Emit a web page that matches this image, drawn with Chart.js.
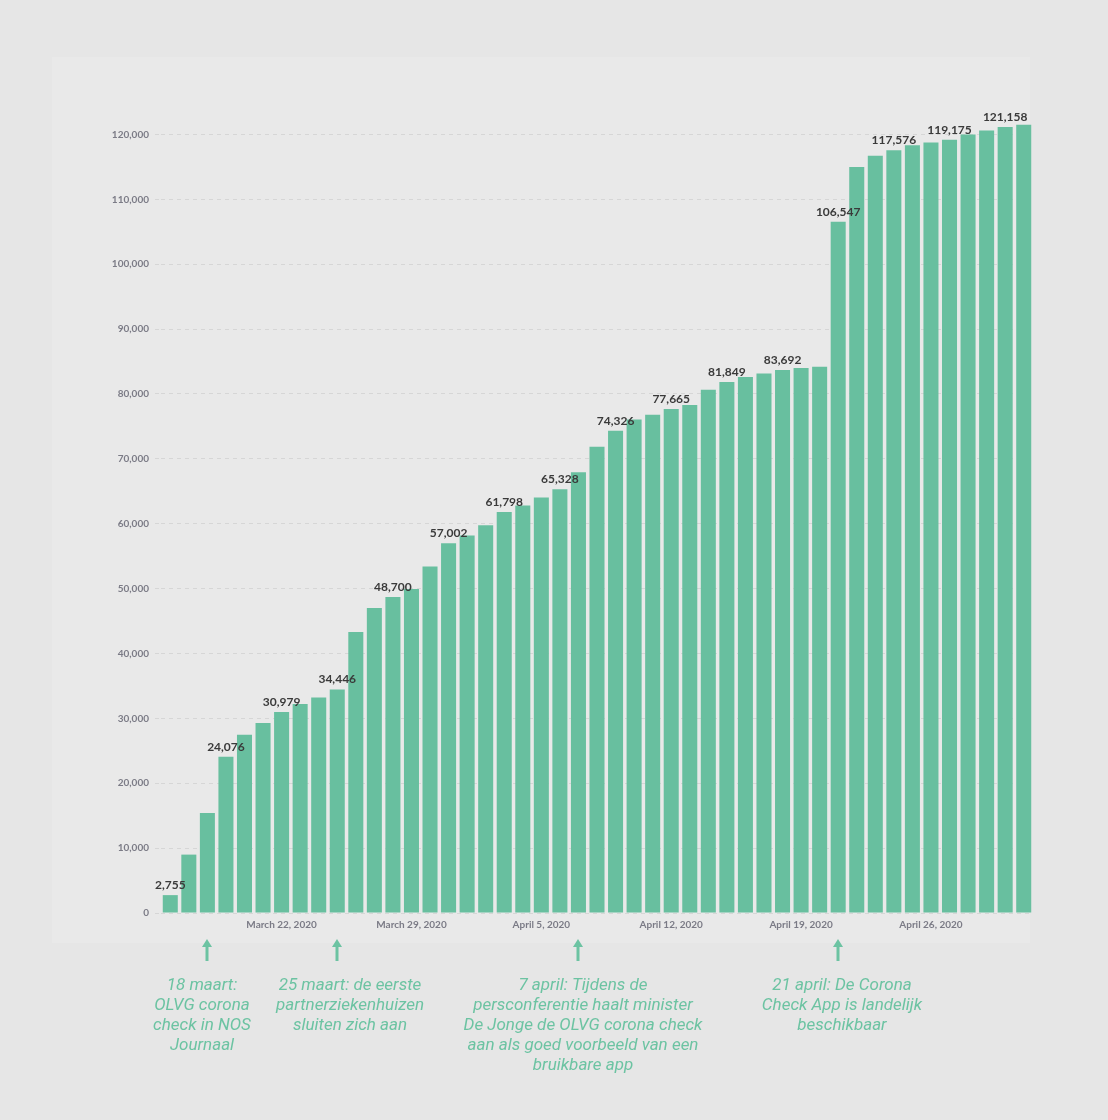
<!DOCTYPE html>
<html>
<head>
<meta charset="utf-8">
<script src="https://cdn.jsdelivr.net/npm/chart.js@4.4.1/dist/chart.umd.min.js"></script>
<style>
  html, body { margin: 0; padding: 0; background: #e6e6e6; }
  #wrap { position: relative; width: 1108px; height: 1120px; }
  #panel { position: absolute; left: 52px; top: 57px; width: 978px; height: 886px; background: #e9e9e9; }
  canvas { position: absolute; left: 0; top: 0; }
</style>
</head>
<body>
<div id="wrap">
  <div id="panel"></div>
  <canvas id="checksChart" width="1108" height="1120"></canvas>
</div>
<script>
// cumulative number of corona checks per day
const days = [
  'March 16, 2020', 'March 17, 2020', 'March 18, 2020', 'March 19, 2020', 'March 20, 2020',
  'March 21, 2020', 'March 22, 2020', 'March 23, 2020', 'March 24, 2020', 'March 25, 2020',
  'March 26, 2020', 'March 27, 2020', 'March 28, 2020', 'March 29, 2020', 'March 30, 2020',
  'March 31, 2020', 'April 1, 2020', 'April 2, 2020', 'April 3, 2020', 'April 4, 2020',
  'April 5, 2020', 'April 6, 2020', 'April 7, 2020', 'April 8, 2020', 'April 9, 2020',
  'April 10, 2020', 'April 11, 2020', 'April 12, 2020', 'April 13, 2020', 'April 14, 2020',
  'April 15, 2020', 'April 16, 2020', 'April 17, 2020', 'April 18, 2020', 'April 19, 2020',
  'April 20, 2020', 'April 21, 2020', 'April 22, 2020', 'April 23, 2020', 'April 24, 2020',
  'April 25, 2020', 'April 26, 2020', 'April 27, 2020', 'April 28, 2020', 'April 29, 2020',
  'April 30, 2020', 'May 1, 2020'
];
const checks = [
  2755, 9000, 15400, 24076, 27470, 29270, 30979, 32200, 33220, 34446,
  43300, 47000, 48700, 49950, 53400, 57002, 58200, 59750, 61798, 62800,
  64050, 65328, 67950, 71850, 74326, 76050, 76800, 77665, 78300, 80650,
  81849, 82600, 83150, 83692, 84000, 84200, 106547, 115000, 116700, 117576,
  118350, 118750, 119175, 120000, 120600, 121158, 121500
];
const tickDates = ['March 22, 2020', 'March 29, 2020', 'April 5, 2020', 'April 12, 2020', 'April 19, 2020', 'April 26, 2020'];
const yTicks = [0, 10000, 20000, 30000, 40000, 50000, 60000, 70000, 80000, 90000, 100000, 110000, 120000];

const noteDays = ['March 18, 2020', 'March 25, 2020', 'April 7, 2020', 'April 21, 2020'];
const noteTexts = [
  ['18 maart:', 'OLVG corona', 'check in NOS', 'Journaal'],
  ['25 maart: de eerste', 'partnerziekenhuizen', 'sluiten zich aan'],
  ['7 april: Tijdens de', 'persconferentie haalt minister', 'De Jonge de OLVG corona check', 'aan als goed voorbeeld van een', 'bruikbare app'],
  ['21 april: De Corona', 'Check App is landelijk', 'beschikbaar']
];
const noteShift = [-5, 13, 5, 4];

const green = '#68bf9f';
const noteGreen = '#6cc3a2';
const tickGray = '#7b7b86';

const valueLabels = {
  id: 'valueLabels',
  afterDatasetsDraw(chart) {
    const { ctx } = chart;
    const bars = chart.getDatasetMeta(0).data;
    ctx.save();
    ctx.font = 'bold 12px Lato';
    ctx.fillStyle = '#3a3a3a';
    ctx.textAlign = 'center';
    ctx.textBaseline = 'bottom';
    bars.forEach((bar, i) => {
      if (i % 3 !== 0) return;
      ctx.fillText(checks[i].toLocaleString('en-US'), bar.x, bar.y - 4);
    });
    ctx.restore();
  }
};

const notes = {
  id: 'notes',
  afterDraw(chart) {
    const { ctx, scales: { x }, chartArea } = chart;
    const top = chartArea.bottom + 26;
    ctx.save();
    ctx.fillStyle = noteGreen;
    ctx.font = 'italic 17px Roboto';
    ctx.textAlign = 'center';
    ctx.textBaseline = 'middle';
    noteDays.forEach((day, n) => {
      const px = Math.round(x.getPixelForValue(days.indexOf(day)));
      ctx.beginPath();
      ctx.moveTo(px, top);
      ctx.lineTo(px - 5, top + 8);
      ctx.lineTo(px + 5, top + 8);
      ctx.closePath();
      ctx.fill();
      ctx.fillRect(px - 1.5, top + 7, 3, 15);
      noteTexts[n].forEach((line, k) => {
        ctx.fillText(line, px + noteShift[n], top + 47 + k * 20);
      });
    });
    ctx.restore();
  }
};

const checksChart = new Chart(document.getElementById('checksChart'), {
  type: 'bar',
  data: {
    labels: days,
    datasets: [{
      data: checks,
      backgroundColor: green,
      borderWidth: 0,
      barPercentage: 0.81,
      categoryPercentage: 1
    }]
  },
  options: {
    responsive: false,
    animation: false,
    layout: { padding: { top: 102, right: 75, bottom: 177, left: 0 } },
    plugins: {
      legend: { display: false },
      tooltip: { enabled: false }
    },
    scales: {
      x: {
        grid: { display: false, drawTicks: false },
        border: { display: false },
        ticks: {
          autoSkip: false,
          maxRotation: 0,
          padding: 6,
          color: tickGray,
          font: { family: 'Lato', size: 10, weight: 'bold' },
          callback: function(value) {
            const label = this.getLabelForValue(value);
            return tickDates.includes(label) ? label : '';
          }
        },
        afterFit: (scale) => { scale.height = 30; }
      },
      y: {
        min: 0,
        max: 125000,
        grid: {
          color: '#d6d6d6',
          tickLength: 6,
          tickColor: '#d6d6d6',
          tickBorderDash: [4, 4]
        },
        border: { display: false, dash: [4, 4] },
        ticks: {
          padding: 6,
          color: tickGray,
          font: { family: 'Lato', size: 10, weight: 'bold' },
          callback: (value) => value.toLocaleString('en-US')
        },
        afterBuildTicks: (scale) => {
          scale.ticks = yTicks.map(v => ({ value: v }));
        },
        afterFit: (scale) => { scale.width = 161; }
      }
    }
  },
  plugins: [valueLabels, notes]
});
</script>
</body>
</html>
